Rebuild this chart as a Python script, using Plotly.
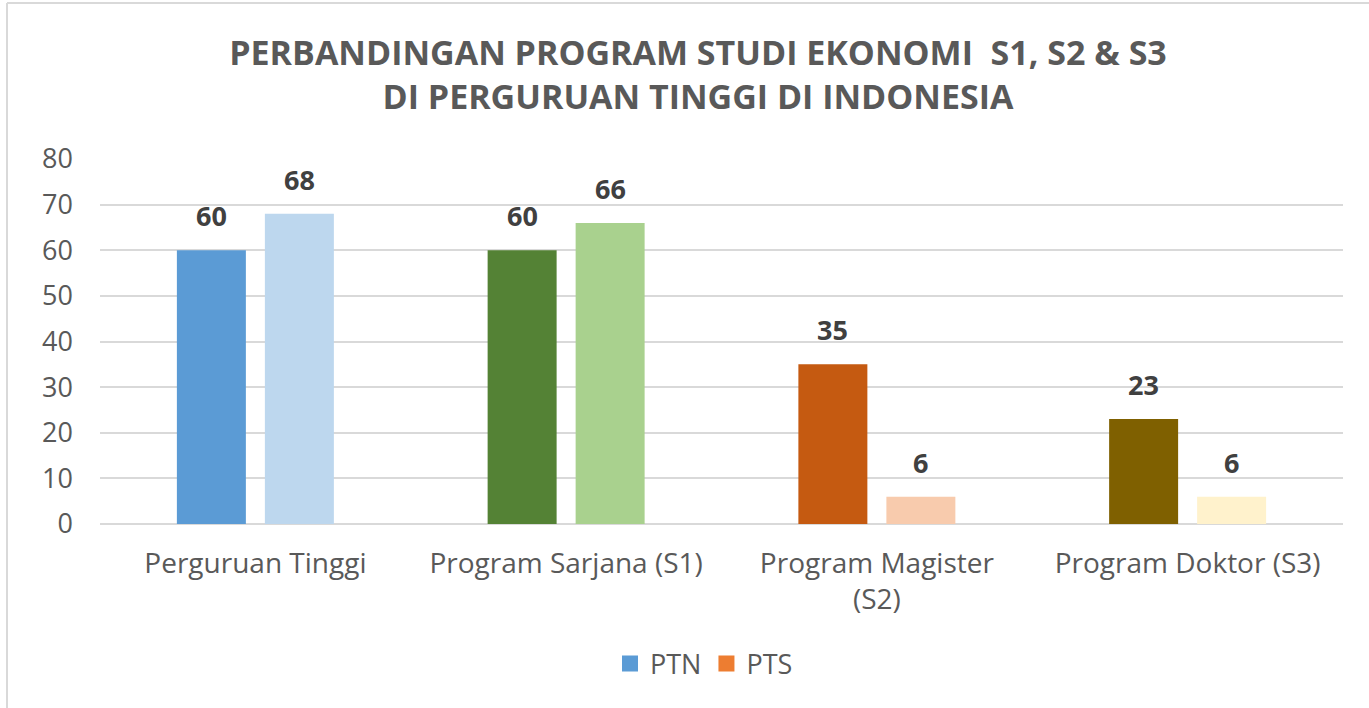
import plotly.graph_objects as go

categories = ["Perguruan Tinggi", "Program Sarjana (S1)", "Program Magister<br>(S2)", "Program Doktor (S3)"]
ptn_values = [60, 60, 35, 23]
pts_values = [68, 66, 6, 6]
ptn_colors = ["#5B9BD5", "#548235", "#C55A11", "#7F6000"]
pts_colors = ["#BDD7EE", "#A9D18E", "#F8CBAD", "#FFF2CC"]
legend_names = ["PTN", "PTS"]
legend_colors = ["#5B9BD5", "#ED7D31"]
y_ticks = [0, 10, 20, 30, 40, 50, 60, 70, 80]
title_lines = ["PERBANDINGAN PROGRAM STUDI EKONOMI  S1, S2 &amp; S3", "DI PERGURUAN TINGGI DI INDONESIA"]

W, H = 1369, 708
L, R, T, B = 100, 26, 159, 184
plot_w = W - L - R
plot_h = H - T - B

bargap = 0.4336
bargroupgap = 0.216
cat_w = plot_w / len(categories)
slot = cat_w * (1 - bargap) / 2
offset_px = slot / 2

FONT = "Open Sans"

fig = go.Figure()
fig.add_trace(go.Bar(x=categories, y=ptn_values, marker=dict(color=ptn_colors, line=dict(width=0)),
                     name="PTN", showlegend=False, hoverinfo="x+y"))
fig.add_trace(go.Bar(x=categories, y=pts_values, marker=dict(color=pts_colors, line=dict(width=0)),
                     name="PTS", showlegend=False, hoverinfo="x+y"))
for name, col in zip(legend_names, legend_colors):
    fig.add_trace(go.Scatter(x=[None], y=[None], mode="markers", name=name,
                             marker=dict(symbol="square", size=19, color=col)))

annotations = []
for vals, sign in ((ptn_values, -1), (pts_values, 1)):
    for c, v in zip(categories, vals):
        annotations.append(dict(x=c, y=v, xref="x", yref="y", text=f"<b>{v}</b>", showarrow=False,
                                yanchor="bottom", xshift=sign * offset_px, yshift=14,
                                font=dict(family=FONT, size=27, color="#404040")))

paper_x = lambda px: (px - L) / plot_w
paper_y = lambda py: (H - B - py) / plot_h
shapes = [
    dict(type="line", xref="paper", yref="paper", x0=paper_x(7), x1=paper_x(W + 5), y0=paper_y(3), y1=paper_y(3),
         line=dict(color="#D9D9D9", width=2)),
    dict(type="line", xref="paper", yref="paper", x0=paper_x(7), x1=paper_x(7), y0=paper_y(3), y1=paper_y(H + 5),
         line=dict(color="#D9D9D9", width=2)),
]

fig.update_layout(
    width=W, height=H,
    margin=dict(l=L, r=R, t=T, b=B),
    paper_bgcolor="white", plot_bgcolor="white",
    barmode="group", bargap=bargap, bargroupgap=bargroupgap,
    title=dict(text="<br>".join(f"<b>{t}</b>" for t in title_lines),
               x=698 / W, xanchor="center", xref="container",
               y=1 - 65 / H, yanchor="middle", yref="container",
               font=dict(family=FONT, size=34, color="#595959")),
    xaxis=dict(tickfont=dict(family=FONT, size=28, color="#595959"), showgrid=False,
               showline=False, ticks="", ticklabelstandoff=20),
    yaxis=dict(range=[0, 80], tickvals=y_ticks, tickfont=dict(family=FONT, size=27, color="#595959"),
               showgrid=True, gridcolor="#D9D9D9", gridwidth=2, zeroline=True, zerolinecolor="#D9D9D9",
               zerolinewidth=2, showline=False, ticks="", ticklabelstandoff=26),
    legend=dict(orientation="h", x=paper_x(704), xanchor="center", y=paper_y(664), yanchor="middle",
                font=dict(family=FONT, size=27, color="#595959"), itemwidth=30, traceorder="normal"),
    annotations=annotations,
    shapes=shapes,
)

fig.write_html("out.html", config={"displayModeBar": False},
               post_script="document.body.style.margin='0px';")
